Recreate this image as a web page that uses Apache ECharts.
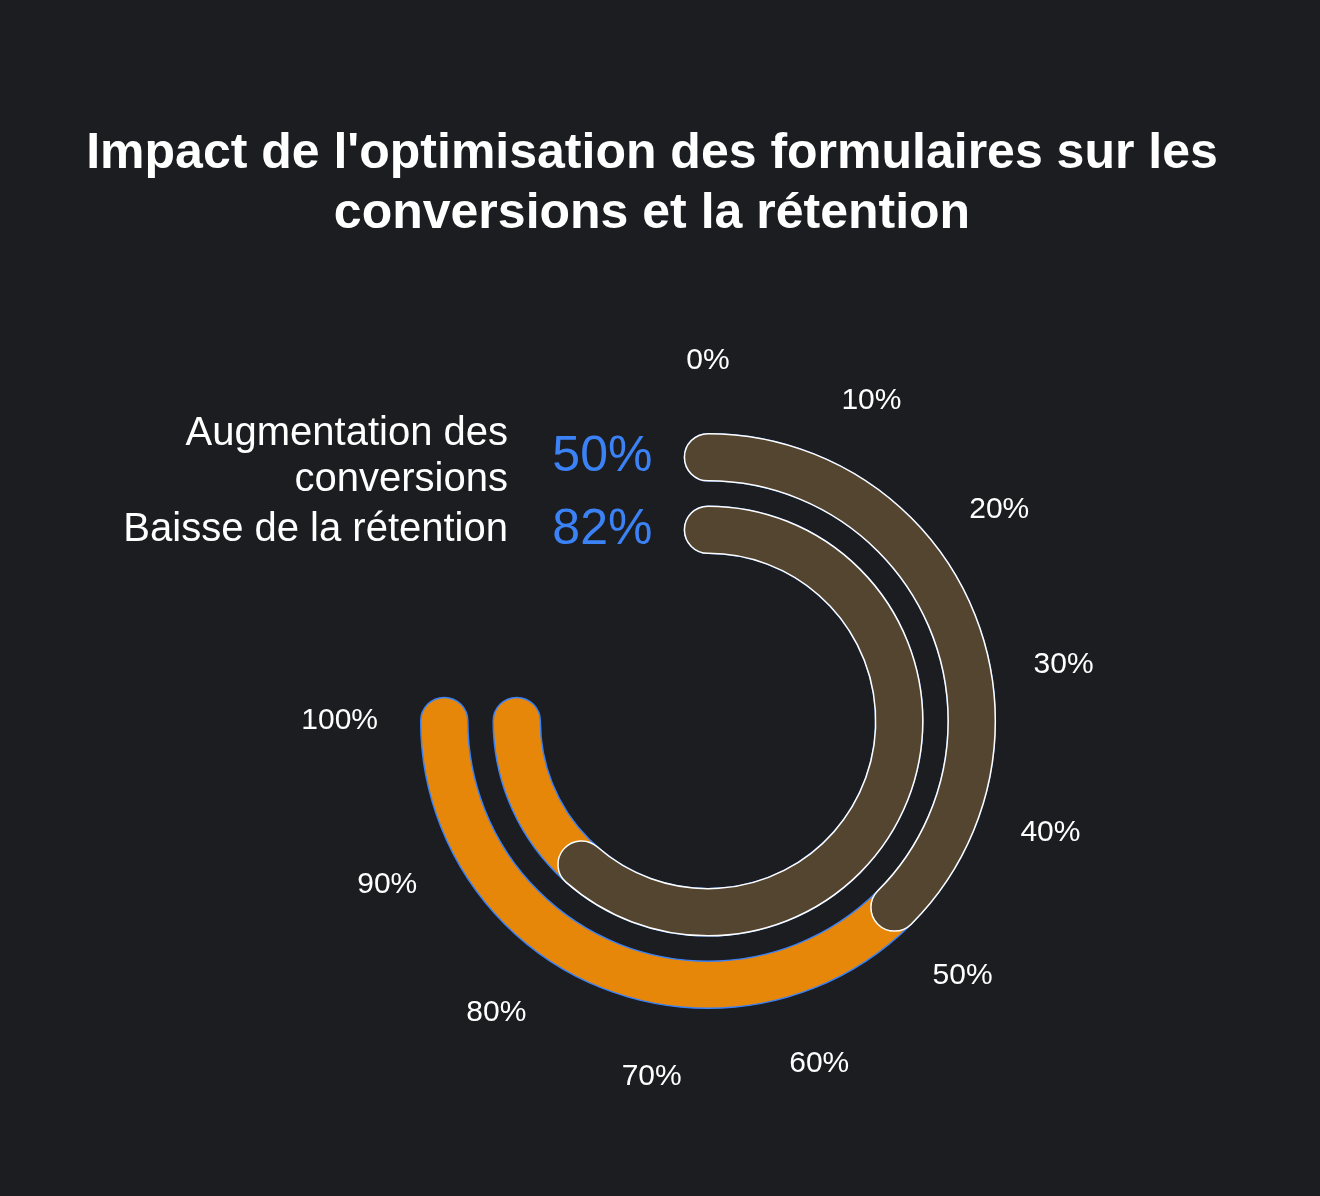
<!DOCTYPE html>
<html>
<head>
<meta charset="utf-8">
<title>Impact de l'optimisation des formulaires</title>
<script src="https://cdn.jsdelivr.net/npm/echarts@6/dist/echarts.min.js"></script>
<style>
  html, body { margin: 0; padding: 0; background: #1c1d21; }
  #chart { width: 1320px; height: 1196px; }
</style>
</head>
<body>
<div id="chart"></div>
<script>
// outer ring first, inner ring second
const categories = ["Augmentation des\nconversions", "Baisse de la rétention"];
const values = [50, 82];
const track = [100, 100];
const scaleMax = 100;
const scaleStep = 10;

const font = "'Liberation Sans', Arial, Helvetica, sans-serif";

const chart = echarts.init(document.getElementById("chart"));

chart.setOption({
  backgroundColor: "#1c1d21",
  title: {
    text: "Impact de l'optimisation des formulaires sur les\nconversions et la rétention",
    left: 647,
    top: 119,
    textAlign: "center",
    textStyle: {
      color: "#ffffff",
      fontFamily: font,
      fontWeight: "bold",
      fontSize: 50,
      lineHeight: 60
    }
  },
  polar: {
    center: [708, 721],
    radius: [155, 300]
  },
  angleAxis: {
    type: "value",
    min: 0,
    max: scaleMax,
    interval: scaleStep,
    startAngle: 90,
    endAngle: -180,
    clockwise: true,
    axisLine: { show: false },
    axisTick: { show: false },
    splitLine: { show: false },
    axisLabel: {
      color: "#ffffff",
      fontFamily: font,
      fontSize: 30,
      margin: 60,
      // pulls left/right/top/bottom aligned labels back so they sit centred on the ring
      padding: [-15, -30, -15, -30],
      formatter: "{value}%"
    }
  },
  radiusAxis: {
    type: "category",
    data: categories,
    inverse: true,
    axisLine: { show: false },
    axisTick: { show: false },
    splitLine: { show: false },
    axisLabel: {
      interval: 0,
      color: "#ffffff",
      fontFamily: font,
      fontSize: 40,
      lineHeight: 46,
      margin: 200,
      align: "right"
    }
  },
  series: [
    {
      name: "Total",
      type: "bar",
      coordinateSystem: "polar",
      data: track,
      barGap: "-100%",
      barCategoryGap: "35%",
      roundCap: true,
      silent: true,
      itemStyle: {
        color: "#e6870a",
        borderColor: "#3b82f6",
        borderWidth: 1.5
      }
    },
    {
      name: "Valeur",
      type: "bar",
      coordinateSystem: "polar",
      data: values,
      barGap: "-100%",
      barCategoryGap: "35%",
      roundCap: true,
      itemStyle: {
        color: "#544530",
        borderColor: "#ffffff",
        borderWidth: 1.5
      },
      label: {
        show: true,
        position: "start",
        distance: 32,
        formatter: "{c}%",
        color: "#3b82f6",
        fontFamily: font,
        fontSize: 50
      }
    }
  ]
});

window.addEventListener("resize", () => chart.resize());
</script>
</body>
</html>
